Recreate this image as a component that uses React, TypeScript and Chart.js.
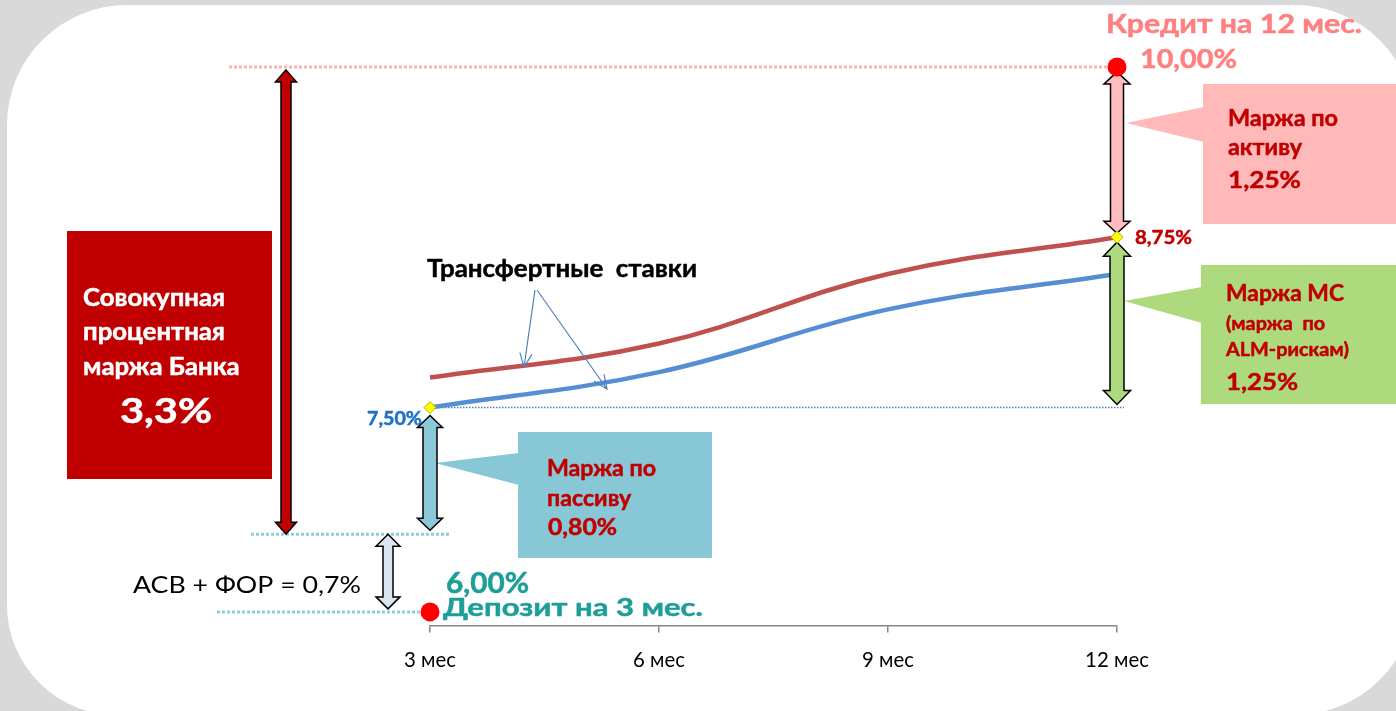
import { useEffect, useRef } from 'react';
import { Chart, registerables } from 'chart.js';

Chart.register(...registerables);

// ---------- data ----------
const TERMS = ['3 мес', '6 мес', '9 мес', '12 мес'];
const FTP_ASSET = [7.72, 7.97, 8.48, 8.75]; // red transfer-rate curve
const FTP_LIAB = [7.5, 7.76, 8.22, 8.48]; // blue transfer-rate curve
const DEPOSIT_RATE = 6.0;
const CREDIT_RATE = 10.0;
const ASV_FOR_LEVEL = 6.57; // level of the АСВ + ФОР dotted line as drawn
const Y_MIN = 5.9;
const Y_MAX = 10.3;

const FONT = 'Lato';
const CAP = 0.7165; // Lato cap-height / em
const W = 1396;
const H = 711;

type Fit = { size: number; sx: number };

// font size chosen from the cap height, horizontal squeeze chosen from the width
function fit(ctx: CanvasRenderingContext2D, text: string, width: number, cap: number, weight: string): Fit {
  const size = cap / CAP;
  ctx.font = `${weight} ${size}px ${FONT}`;
  return { size, sx: width / ctx.measureText(text).width };
}

function txt(
  ctx: CanvasRenderingContext2D,
  text: string,
  x: number,
  yBase: number,
  f: Fit,
  weight: string,
  color: string,
  align: CanvasTextAlign = 'left'
) {
  ctx.save();
  ctx.translate(x, yBase);
  ctx.scale(f.sx, 1);
  ctx.font = `${weight} ${f.size}px ${FONT}`;
  ctx.fillStyle = color;
  ctx.textAlign = align;
  ctx.textBaseline = 'alphabetic';
  ctx.fillText(text, 0, 0);
  if (weight === 'bold') {
    ctx.strokeStyle = color;
    ctx.lineWidth = 0.5;
    ctx.lineJoin = 'round';
    ctx.strokeText(text, 0, 0);
  }
  ctx.restore();
}

function sizeFor(ctx: CanvasRenderingContext2D, text: string, weight: string, width: number) {
  ctx.font = `${weight} 100px ${FONT}`;
  return (100 * width) / ctx.measureText(text).width;
}

function vArrow(
  ctx: CanvasRenderingContext2D,
  x: number,
  yTop: number,
  yBot: number,
  shaft: number,
  head: number,
  headLen: number,
  fill: string
) {
  const s = shaft / 2;
  const h = head / 2;
  ctx.beginPath();
  ctx.moveTo(x, yTop);
  ctx.lineTo(x + h, yTop + headLen);
  ctx.lineTo(x + s, yTop + headLen);
  ctx.lineTo(x + s, yBot - headLen);
  ctx.lineTo(x + h, yBot - headLen);
  ctx.lineTo(x, yBot);
  ctx.lineTo(x - h, yBot - headLen);
  ctx.lineTo(x - s, yBot - headLen);
  ctx.lineTo(x - s, yTop + headLen);
  ctx.lineTo(x - h, yTop + headLen);
  ctx.closePath();
  ctx.fillStyle = fill;
  ctx.fill();
  ctx.lineWidth = 1.5;
  ctx.strokeStyle = '#000000';
  ctx.lineJoin = 'miter';
  ctx.stroke();
}

function dotted(
  ctx: CanvasRenderingContext2D,
  x1: number,
  x2: number,
  y: number,
  color: string,
  width: number,
  dash: number[]
) {
  ctx.save();
  ctx.beginPath();
  ctx.setLineDash(dash);
  ctx.strokeStyle = color;
  ctx.lineWidth = width;
  ctx.moveTo(x1, y);
  ctx.lineTo(x2, y);
  ctx.stroke();
  ctx.restore();
}

function callout(
  ctx: CanvasRenderingContext2D,
  x: number,
  y: number,
  w: number,
  h: number,
  b1: number,
  b2: number,
  tipX: number,
  tipY: number,
  color: string
) {
  ctx.fillStyle = color;
  ctx.fillRect(x, y, w, h);
  ctx.beginPath();
  ctx.moveTo(x + 1, b1);
  ctx.lineTo(tipX, tipY);
  ctx.lineTo(x + 1, b2);
  ctx.closePath();
  ctx.fill();
}

function openArrow(ctx: CanvasRenderingContext2D, x1: number, y1: number, x2: number, y2: number) {
  const ang = Math.atan2(y2 - y1, x2 - x1);
  const len = 15;
  const spread = 0.42;
  ctx.beginPath();
  ctx.moveTo(x1, y1);
  ctx.lineTo(x2, y2);
  ctx.moveTo(x2 - len * Math.cos(ang - spread), y2 - len * Math.sin(ang - spread));
  ctx.lineTo(x2, y2);
  ctx.lineTo(x2 - len * Math.cos(ang + spread), y2 - len * Math.sin(ang + spread));
  ctx.strokeStyle = '#4F81BD';
  ctx.lineWidth = 1.2;
  ctx.stroke();
}

const schemePlugin = {
  id: 'scheme',
  beforeDraw(chart: any) {
    const ctx: CanvasRenderingContext2D = chart.ctx;
    ctx.save();
    ctx.fillStyle = '#D9D9D9';
    ctx.fillRect(0, 0, W, H);
    ctx.beginPath();
    (ctx as any).roundRect(7, 5, 1408, 710, [120, 120, 120, 110]);
    ctx.fillStyle = '#FFFFFF';
    ctx.fill();
    ctx.restore();
  },
  beforeDatasetsDraw(chart: any) {
    const ctx: CanvasRenderingContext2D = chart.ctx;
    const xs = chart.scales.x;
    const ys = chart.scales.y;
    const x0 = xs.getPixelForValue(0);
    const x3 = xs.getPixelForValue(3);
    ctx.save();
    dotted(ctx, 229, x3, ys.getPixelForValue(CREDIT_RATE), '#FFB3B3', 3, [3, 2]);
    dotted(ctx, 251, 450, ys.getPixelForValue(ASV_FOR_LEVEL), '#92CDDC', 3, [3, 2]);
    dotted(ctx, 217, x0 - 8, ys.getPixelForValue(DEPOSIT_RATE), '#92CDDC', 3, [3, 2]);
    dotted(ctx, x0, x3 + 7, ys.getPixelForValue(FTP_LIAB[0]), '#4F81BD', 1.5, [1.5, 1.5]);
    ctx.restore();
  },
  afterDatasetDraw(chart: any, args: any) {
    if (args.index !== 2) return;
    const ctx: CanvasRenderingContext2D = chart.ctx;
    const xs = chart.scales.x;
    const ys = chart.scales.y;
    const x0 = xs.getPixelForValue(0);
    const x3 = xs.getPixelForValue(3);
    const yCredit = ys.getPixelForValue(CREDIT_RATE);
    const yAsset = ys.getPixelForValue(FTP_ASSET[3]);
    const yLiab = ys.getPixelForValue(FTP_LIAB[0]);
    const yAsv = ys.getPixelForValue(ASV_FOR_LEVEL);
    const yDep = ys.getPixelForValue(DEPOSIT_RATE);
    ctx.save();
    callout(ctx, 1203, 84, W - 1203, 140, 107, 142, 1126, 123, '#FFB9B9');
    callout(ctx, 1201, 265, W - 1201, 139, 287, 323, 1124, 301, '#AEDA7E');
    callout(ctx, 518, 432, 194, 126, 453, 485, 435, 463, '#88C7D6');
    ctx.fillStyle = '#C00000';
    ctx.fillRect(67, 231, 205, 248);
    vArrow(ctx, 286, yCredit + 3, yAsv, 10, 21, 12, '#C00000');
    vArrow(ctx, 388, yAsv, yDep - 3, 10, 24, 12, '#DCE6F2');
    vArrow(ctx, x0, yLiab + 8, yAsv - 4, 14, 25, 12, '#8DC8D8');
    vArrow(ctx, x3, yCredit + 5, yAsset - 4, 13, 26, 12, '#FFBDBD');
    vArrow(ctx, x3, yAsset + 5, yLiab - 3, 14, 27, 14, '#AEDA7E');
    openArrow(ctx, 535, 290, 524, 367);
    openArrow(ctx, 537, 290, 607, 389);
    ctx.restore();
  },
  afterDraw(chart: any) {
    const ctx: CanvasRenderingContext2D = chart.ctx;
    const xs = chart.scales.x;
    const ys = chart.scales.y;
    const x0 = xs.getPixelForValue(0);
    const x3 = xs.getPixelForValue(3);
    const B = 'bold';
    const DR = '#C00000';
    // red box
    const fBox = fit(ctx, 'Совокупная', 142, 17.5, B);
    txt(ctx, 'Совокупная', 83, 306, fBox, B, '#FFFFFF');
    txt(ctx, 'процентная', 83, 340, fBox, B, '#FFFFFF');
    txt(ctx, 'маржа Банка', 83, 375, fBox, B, '#FFFFFF');
    txt(ctx, '3,3%', 166, 423, fit(ctx, '3,3%', 92, 25, B), B, '#FFFFFF', 'center');
    // pink callout
    const fP = fit(ctx, 'Маржа по', 110, 16, B);
    txt(ctx, 'Маржа по', 1228, 126, fP, B, DR);
    txt(ctx, 'активу', 1228, 155, fP, B, DR);
    txt(ctx, '1,25%', 1228, 188, fit(ctx, '1,25%', 73, 16.7, B), B, DR);
    // green callout
    txt(ctx, 'Маржа МС', 1226, 301, fit(ctx, 'Маржа МС', 118, 15.7, B), B, DR);
    const fG = fit(ctx, 'ALM-рискам)', 123, 13.3, B);
    txt(ctx, '(маржа  по', 1226, 330, fG, B, DR);
    txt(ctx, 'ALM-рискам)', 1226, 356, fG, B, DR);
    txt(ctx, '1,25%', 1226, 390, fit(ctx, '1,25%', 72, 16.5, B), B, DR);
    // light blue callout
    const fB = fit(ctx, 'Маржа по', 109, 16, B);
    txt(ctx, 'Маржа по', 547, 476, fB, B, DR);
    txt(ctx, 'пассиву', 547, 506, fB, B, DR);
    txt(ctx, '0,80%', 548, 535, fit(ctx, '0,80%', 69, 15.7, B), B, DR);
    // other labels
    txt(ctx, 'Трансфертные  ставки', 427, 277, fit(ctx, 'Трансфертные  ставки', 270, 18.3, B), B, '#000000');
    txt(ctx, '7,50%', x0 - 8, ys.getPixelForValue(FTP_LIAB[0]) + 17, fit(ctx, '7,50%', 55, 13.3, B), B, '#1F72C6', 'right');
    txt(ctx, '8,75%', x3 + 18, ys.getPixelForValue(FTP_ASSET[3]) + 7, fit(ctx, '8,75%', 57, 14, B), B, DR);
    txt(ctx, 'Кредит на 12 мес.', 1106, 33, fit(ctx, 'Кредит на 12 мес.', 256, 19.3, B), B, '#FF8080');
    txt(ctx, '10,00%', 1140, ys.getPixelForValue(CREDIT_RATE) + 1, fit(ctx, '10,00%', 97, 19, B), B, '#FF8080');
    txt(ctx, '6,00%', 446, 593, fit(ctx, '6,00%', 83, 20, B), B, '#1E9E98');
    txt(ctx, 'Депозит на 3 мес.', 443, ys.getPixelForValue(DEPOSIT_RATE) + 4, fit(ctx, 'Депозит на 3 мес.', 260, 18.3, B), B, '#1E9E98');
    txt(ctx, 'АСВ + ФОР = 0,7%', 133, 593, fit(ctx, 'АСВ + ФОР = 0,7%', 228, 17, 'normal'), 'normal', '#000000');
  },
};

export default function App() {
  const ref = useRef<HTMLCanvasElement | null>(null);

  useEffect(() => {
    const canvas = ref.current;
    if (!canvas) return;
    const tmp = document.createElement('canvas').getContext('2d') as CanvasRenderingContext2D;
    const tickSize = sizeFor(tmp, TERMS[0], 'normal', 52);
    const tickLen = 7;
    const tickPad = 16;
    const bottomPad = 22;

    const chart = new Chart(canvas, {
      type: 'line',
      data: {
        labels: TERMS,
        datasets: [
          {
            label: 'markers',
            data: [FTP_LIAB[0], null, null, FTP_ASSET[3]],
            showLine: false,
            pointStyle: 'rectRot',
            pointRadius: 6,
            pointBackgroundColor: '#FFFF00',
            pointBorderColor: '#B8B000',
            pointBorderWidth: 1,
            clip: false,
          },
          {
            label: 'rates',
            data: [DEPOSIT_RATE, null, null, CREDIT_RATE],
            showLine: false,
            pointRadius: 9.5,
            pointBackgroundColor: '#FF0000',
            pointBorderColor: '#FF0000',
            pointBorderWidth: 0,
            clip: false,
          },
          {
            label: 'FTP asset',
            data: FTP_ASSET,
            borderColor: '#C0504D',
            borderWidth: 4.5,
            tension: 0.4,
            pointRadius: 0,
            fill: false,
            clip: false,
          },
          {
            label: 'FTP liability',
            data: FTP_LIAB,
            borderColor: '#558ED5',
            borderWidth: 4.5,
            tension: 0.4,
            pointRadius: 0,
            fill: false,
            clip: false,
          },
        ] as any,
      },
      options: {
        responsive: false,
        animation: false,
        events: [],
        layout: { padding: { left: 430, right: W - 1117, top: 26, bottom: bottomPad } },
        plugins: { legend: { display: false }, tooltip: { enabled: false } },
        scales: {
          x: {
            type: 'category',
            offset: false,
            grid: { drawOnChartArea: false, drawTicks: true, tickLength: tickLen, color: '#868686', lineWidth: 1.5 },
            border: { display: true, color: '#868686', width: 1.5 },
            ticks: { color: '#000000', padding: tickPad, font: { family: FONT, size: tickSize } },
          },
          y: { display: false, min: Y_MIN, max: Y_MAX },
        },
      },
      plugins: [schemePlugin],
    });
    return () => chart.destroy();
  }, []);

  return (
    <div style={{ position: 'absolute', left: 0, top: 0, width: W, height: H }}>
      <canvas ref={ref} width={W} height={H} style={{ display: 'block', width: W, height: H }} />
    </div>
  );
}
